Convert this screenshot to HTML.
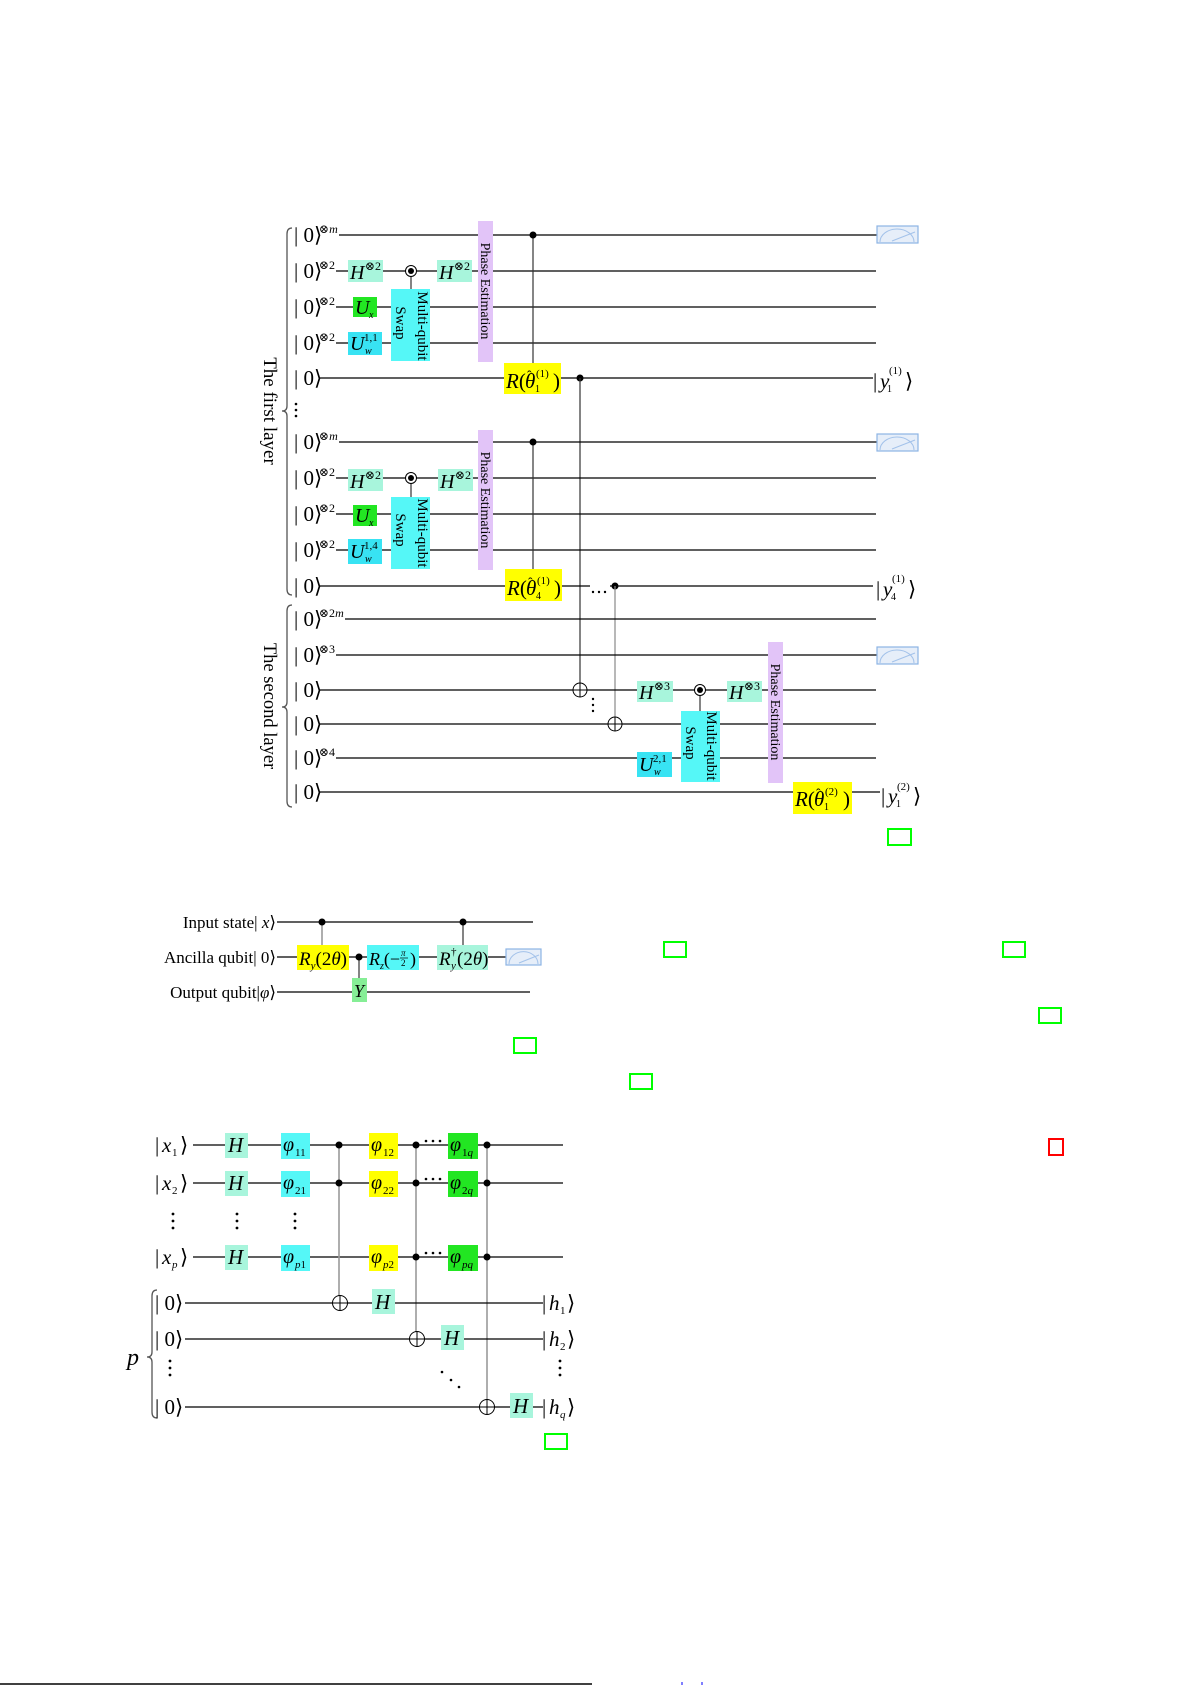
<!DOCTYPE html>
<html><head><meta charset="utf-8"><style>
html,body{margin:0;padding:0;background:#fff}
svg{display:block}
text{font-family:"Liberation Serif","DejaVu Serif","DejaVu Sans",serif;fill:#000}
.w{stroke:#000;stroke-width:1.3;fill:none}
.v{stroke:#333;stroke-width:1.2}
.g{stroke:#9a9a9a;stroke-width:1.6}
.br{stroke:#555;stroke-width:1.3;fill:none}
.mint{fill:#a8f5dc}
.cy{fill:#55f7f7}
.cw{fill:#38e3f3}
.yl{fill:#ffff00}
.gr{fill:#22e622}
.pe{fill:#e2c4f8}
.ms{fill:#e6eef9;stroke:#8db4e4;stroke-width:1.2}
.arc{fill:none;stroke:#a3c2ea;stroke-width:1}
.sq{fill:none;stroke:#00ff00;stroke-width:2}
</style></head><body>
<svg width="1191" height="1685" viewBox="0 0 1191 1685" xmlns="http://www.w3.org/2000/svg">

<!-- ================= CIRCUIT 1 : FIRST LAYER, BLOCK 1 ================= -->
<path class="br" d="M292,228 Q287,228 287,234 L287,406 Q287,411 282,411 Q287,411 287,416 L287,589 Q287,595 292,595"/>
<text transform="translate(264,411) rotate(90)" text-anchor="middle" font-size="19">The first layer</text>

<g font-size="21">
<text x="294" y="242">| 0⟩</text>
<text x="294" y="278">| 0⟩</text>
<text x="294" y="314">| 0⟩</text>
<text x="294" y="350">| 0⟩</text>
<text x="294" y="385">| 0⟩</text>
</g>
<g font-size="12">
<text x="319" y="233">⊗<tspan font-style="italic">m</tspan></text>
<text x="319" y="269">⊗2</text>
<text x="319" y="305">⊗2</text>
<text x="319" y="341">⊗2</text>
</g>
<line class="w" x1="339" y1="235" x2="877" y2="235"/>
<line class="w" x1="336" y1="271" x2="876" y2="271"/>
<line class="w" x1="336" y1="307" x2="876" y2="307"/>
<line class="w" x1="336" y1="343" x2="876" y2="343"/>
<line class="w" x1="320" y1="378" x2="873" y2="378"/>
<rect class="mint" x="348" y="260" width="35" height="22"/>
<text x="350" y="279" font-size="20" font-style="italic">H</text><text x="365" y="270" font-size="12">⊗2</text>
<rect class="gr" x="353" y="297" width="24" height="20"/>
<text x="355" y="314" font-size="20" font-style="italic">U</text><text x="369" y="318" font-size="10" font-style="italic">x</text>
<rect class="cw" x="348" y="332" width="34" height="23"/>
<text x="350" y="350" font-size="20" font-style="italic">U</text><text x="364" y="341" font-size="11">1,1</text><text x="365" y="354" font-size="10" font-style="italic">w</text>
<line class="v" x1="411" y1="271" x2="411" y2="289"/>
<circle cx="411" cy="271" r="5.5" fill="#fff" stroke="#000" stroke-width="1"/><circle cx="411" cy="271" r="3" fill="#000"/>
<rect class="cy" x="391" y="289" width="39" height="72"/>
<text transform="translate(418,326) rotate(90)" text-anchor="middle" font-size="15">Multi-qubit</text>
<text transform="translate(396,323) rotate(90)" text-anchor="middle" font-size="15">Swap</text>
<rect class="mint" x="437" y="260" width="35" height="22"/>
<text x="439" y="279" font-size="20" font-style="italic">H</text><text x="454" y="270" font-size="12">⊗2</text>
<rect class="pe" x="478" y="221" width="15" height="141"/>
<text transform="translate(481,291) rotate(90)" text-anchor="middle" font-size="14">Phase Estimation</text>
<line class="v" x1="533" y1="235" x2="533" y2="363"/>
<circle cx="533" cy="235" r="3.5"/>
<rect class="yl" x="504" y="363" width="57" height="31"/>
<text x="506" y="388" font-size="21"><tspan font-style="italic">R</tspan>(</text>
<text x="525" y="388" font-size="21" font-style="italic">θ</text>
<text x="527" y="380" font-size="14">ˆ</text>
<text x="535" y="392" font-size="10">1</text>
<text x="536" y="377" font-size="11">(1)</text>
<text x="553" y="388" font-size="21">)</text>
<circle cx="580" cy="378" r="3.5"/>
<line class="v" x1="580" y1="378" x2="580" y2="683"/>
<text x="873" y="388" font-size="21">|</text>
<text x="880" y="388" font-size="21" font-style="italic">y</text>
<text x="887" y="392" font-size="10">1</text>
<text x="889" y="374" font-size="11">(1)</text>
<text x="905" y="388" font-size="21">⟩</text>
<rect class="ms" x="877" y="226" width="41" height="17"/>
<path class="arc" d="M880,242 A17,13 0 0 1 914,242"/><line class="arc" x1="892" y1="241" x2="915" y2="232"/>

<!-- dots between blocks -->
<circle cx="296" cy="404" r="1.3"/><circle cx="296" cy="410" r="1.3"/><circle cx="296" cy="416" r="1.3"/>

<!-- ================= BLOCK 2 ================= -->
<g font-size="21">
<text x="294" y="449">| 0⟩</text>
<text x="294" y="485">| 0⟩</text>
<text x="294" y="521">| 0⟩</text>
<text x="294" y="557">| 0⟩</text>
<text x="294" y="593">| 0⟩</text>
</g>
<g font-size="12">
<text x="319" y="440">⊗<tspan font-style="italic">m</tspan></text>
<text x="319" y="476">⊗2</text>
<text x="319" y="512">⊗2</text>
<text x="319" y="548">⊗2</text>
</g>
<line class="w" x1="339" y1="442" x2="877" y2="442"/>
<line class="w" x1="336" y1="478" x2="876" y2="478"/>
<line class="w" x1="336" y1="514" x2="876" y2="514"/>
<line class="w" x1="336" y1="550" x2="876" y2="550"/>
<line class="w" x1="320" y1="586" x2="590" y2="586"/>
<line class="w" x1="610" y1="586" x2="873" y2="586"/>
<rect class="mint" x="348" y="469" width="35" height="22"/>
<text x="350" y="488" font-size="20" font-style="italic">H</text><text x="365" y="479" font-size="12">⊗2</text>
<rect class="gr" x="353" y="505" width="24" height="21"/>
<text x="355" y="522" font-size="20" font-style="italic">U</text><text x="369" y="526" font-size="10" font-style="italic">x</text>
<rect class="cw" x="348" y="539" width="34" height="25"/>
<text x="350" y="558" font-size="20" font-style="italic">U</text><text x="364" y="549" font-size="11">1,4</text><text x="365" y="562" font-size="10" font-style="italic">w</text>
<line class="v" x1="411" y1="478" x2="411" y2="497"/>
<circle cx="411" cy="478" r="5.5" fill="#fff" stroke="#000" stroke-width="1"/><circle cx="411" cy="478" r="3" fill="#000"/>
<rect class="cy" x="391" y="497" width="39" height="72"/>
<text transform="translate(418,533) rotate(90)" text-anchor="middle" font-size="15">Multi-qubit</text>
<text transform="translate(396,530) rotate(90)" text-anchor="middle" font-size="15">Swap</text>
<rect class="mint" x="438" y="469" width="35" height="22"/>
<text x="440" y="488" font-size="20" font-style="italic">H</text><text x="455" y="479" font-size="12">⊗2</text>
<rect class="pe" x="478" y="430" width="15" height="140"/>
<text transform="translate(481,500) rotate(90)" text-anchor="middle" font-size="14">Phase Estimation</text>
<line class="v" x1="533" y1="442" x2="533" y2="569"/>
<circle cx="533" cy="442" r="3.5"/>
<rect class="yl" x="505" y="569" width="57" height="32"/>
<text x="507" y="595" font-size="21"><tspan font-style="italic">R</tspan>(</text>
<text x="526" y="595" font-size="21" font-style="italic">θ</text>
<text x="528" y="587" font-size="14">ˆ</text>
<text x="536" y="599" font-size="10">4</text>
<text x="537" y="584" font-size="11">(1)</text>
<text x="554" y="595" font-size="21">)</text>
<circle cx="593" cy="592" r="1.2"/><circle cx="599" cy="592" r="1.2"/><circle cx="605" cy="592" r="1.2"/>
<circle cx="615" cy="586" r="3.5"/>
<line x1="615" y1="586" x2="615" y2="717" style="stroke:#888;stroke-width:1.2"/>
<text x="876" y="596" font-size="21">|</text>
<text x="883" y="596" font-size="21" font-style="italic">y</text>
<text x="891" y="600" font-size="10">4</text>
<text x="892" y="582" font-size="11">(1)</text>
<text x="908" y="596" font-size="21">⟩</text>
<rect class="ms" x="877" y="434" width="41" height="17"/>
<path class="arc" d="M880,450 A17,13 0 0 1 914,450"/><line class="arc" x1="892" y1="449" x2="915" y2="440"/>

<!-- ================= SECOND LAYER ================= -->
<path class="br" d="M292,605 Q287,605 287,611 L287,702 Q287,707 282,707 Q287,707 287,712 L287,801 Q287,807 292,807"/>
<text transform="translate(264,706) rotate(90)" text-anchor="middle" font-size="18.5">The second layer</text>
<g font-size="21">
<text x="294" y="626">| 0⟩</text>
<text x="294" y="662">| 0⟩</text>
<text x="294" y="697">| 0⟩</text>
<text x="294" y="731">| 0⟩</text>
<text x="294" y="765">| 0⟩</text>
<text x="294" y="799">| 0⟩</text>
</g>
<g font-size="12">
<text x="319" y="617">⊗2<tspan font-style="italic">m</tspan></text>
<text x="319" y="653">⊗3</text>
<text x="319" y="756">⊗4</text>
</g>
<line class="w" x1="345" y1="619" x2="876" y2="619"/>
<line class="w" x1="336" y1="655" x2="877" y2="655"/>
<line class="w" x1="320" y1="690" x2="876" y2="690"/>
<line class="w" x1="320" y1="724" x2="876" y2="724"/>
<line class="w" x1="336" y1="758" x2="876" y2="758"/>
<line class="w" x1="320" y1="792" x2="880" y2="792"/>
<circle cx="580" cy="690" r="7" fill="#fff" stroke="#000" stroke-width="1"/>
<line x1="573" y1="690" x2="587" y2="690" stroke="#000" stroke-width="1"/><line x1="580" y1="683" x2="580" y2="697" stroke="#000" stroke-width="1"/>
<circle cx="615" cy="724" r="7" fill="#fff" stroke="#000" stroke-width="1"/>
<line x1="608" y1="724" x2="622" y2="724" stroke="#000" stroke-width="1"/><line x1="615" y1="717" x2="615" y2="731" stroke="#000" stroke-width="1"/>
<circle cx="593" cy="699" r="1.2"/><circle cx="593" cy="705" r="1.2"/><circle cx="593" cy="711" r="1.2"/>
<rect class="mint" x="637" y="681" width="36" height="21"/>
<text x="639" y="699" font-size="20" font-style="italic">H</text><text x="654" y="690" font-size="12">⊗3</text>
<line class="v" x1="700" y1="690" x2="700" y2="711"/>
<circle cx="700" cy="690" r="5.5" fill="#fff" stroke="#000" stroke-width="1"/><circle cx="700" cy="690" r="3" fill="#000"/>
<rect class="cy" x="681" y="711" width="39" height="71"/>
<text transform="translate(707,746) rotate(90)" text-anchor="middle" font-size="15">Multi-qubit</text>
<text transform="translate(686,743) rotate(90)" text-anchor="middle" font-size="15">Swap</text>
<rect class="mint" x="727" y="681" width="35" height="21"/>
<text x="729" y="699" font-size="20" font-style="italic">H</text><text x="744" y="690" font-size="12">⊗3</text>
<rect class="cw" x="637" y="752" width="35" height="25"/>
<text x="639" y="771" font-size="20" font-style="italic">U</text><text x="653" y="762" font-size="11">2,1</text><text x="654" y="775" font-size="10" font-style="italic">w</text>
<rect class="pe" x="768" y="642" width="15" height="141"/>
<text transform="translate(771,712) rotate(90)" text-anchor="middle" font-size="14">Phase Estimation</text>
<rect class="yl" x="793" y="782" width="59" height="32"/>
<text x="795" y="806" font-size="21"><tspan font-style="italic">R</tspan>(</text>
<text x="814" y="806" font-size="21" font-style="italic">θ</text>
<text x="816" y="798" font-size="14">ˆ</text>
<text x="824" y="810" font-size="10">1</text>
<text x="825" y="795" font-size="11">(2)</text>
<text x="843" y="806" font-size="21">)</text>
<rect x="880" y="780" width="48" height="30" fill="#fff"/>
<text x="881" y="803" font-size="21">|</text>
<text x="888" y="803" font-size="21" font-style="italic">y</text>
<text x="896" y="807" font-size="10">1</text>
<text x="897" y="790" font-size="11">(2)</text>
<text x="913" y="803" font-size="21">⟩</text>
<rect class="ms" x="877" y="647" width="41" height="17"/>
<path class="arc" d="M880,663 A17,13 0 0 1 914,663"/><line class="arc" x1="892" y1="662" x2="915" y2="653"/>

<!-- ================= CIRCUIT 2 ================= -->
<g font-size="17">
<text x="276" y="928" text-anchor="end">Input state| <tspan font-style="italic">x</tspan>⟩</text>
<text x="276" y="963" text-anchor="end">Ancilla qubit| 0⟩</text>
<text x="276" y="998" text-anchor="end">Output qubit|<tspan font-style="italic">φ</tspan>⟩</text>
</g>
<line class="w" x1="277" y1="922" x2="533" y2="922"/>
<line class="w" x1="277" y1="957" x2="506" y2="957"/>
<line class="w" x1="277" y1="992" x2="530" y2="992"/>
<line class="g" x1="322" y1="922" x2="322" y2="945"/>
<circle cx="322" cy="922" r="3.5"/>
<line class="v" x1="463" y1="922" x2="463" y2="945"/>
<circle cx="463" cy="922" r="3.5"/>
<line class="v" x1="359" y1="957" x2="359" y2="978"/>
<circle cx="359" cy="957" r="3.5"/>
<rect class="yl" x="297" y="945" width="52" height="25"/>
<text x="299" y="965" font-size="19"><tspan font-style="italic">R</tspan><tspan font-size="11" font-style="italic" dy="4">y</tspan><tspan dy="-4">(2</tspan><tspan font-style="italic">θ</tspan>)</text>
<rect class="cy" x="367" y="945" width="52" height="25"/>
<text x="369" y="965" font-size="18"><tspan font-style="italic">R</tspan><tspan font-size="10" font-style="italic" dy="4">z</tspan><tspan dy="-4">(−</tspan></text>
<text x="401" y="956" font-size="9" font-style="italic">π</text>
<line x1="400" y1="958" x2="408" y2="958" stroke="#000" stroke-width="0.7"/>
<text x="401" y="966" font-size="9">2</text>
<text x="410" y="965" font-size="18">)</text>
<rect class="mint" x="437" y="945" width="51" height="25"/>
<text x="439" y="965" font-size="19" font-style="italic">R</text>
<text x="451" y="955" font-size="11">†</text>
<text x="451" y="969" font-size="11" font-style="italic">y</text>
<text x="457" y="965" font-size="19">(2<tspan font-style="italic">θ</tspan>)</text>
<rect x="352" y="978" width="15" height="24" fill="#86ee96"/>
<text x="354" y="997" font-size="18" font-style="italic">Y</text>
<rect class="ms" x="506" y="949" width="35" height="16"/>
<path class="arc" d="M509,964 A14,12 0 0 1 538,964"/><line class="arc" x1="519" y1="963" x2="539" y2="955"/>

<!-- annotation squares -->
<rect class="sq" x="888" y="829" width="23" height="16"/>
<rect class="sq" x="664" y="942" width="22" height="15"/>
<rect class="sq" x="1003" y="942" width="22" height="15"/>
<rect class="sq" x="1039" y="1008" width="22" height="15"/>
<rect class="sq" x="514" y="1038" width="22" height="15"/>
<rect class="sq" x="630" y="1074" width="22" height="15"/>
<rect x="1049" y="1139" width="14" height="16" fill="none" stroke="#ff0000" stroke-width="2"/>
<rect class="sq" x="545" y="1434" width="22" height="15"/>

<!-- ================= CIRCUIT 3 ================= -->
<g font-size="21">
<text x="155" y="1152">|</text><text x="162" y="1152" font-style="italic">x</text><text x="172" y="1156" font-size="11">1</text><text x="180" y="1152">⟩</text>
<text x="155" y="1190">|</text><text x="162" y="1190" font-style="italic">x</text><text x="172" y="1194" font-size="11">2</text><text x="180" y="1190">⟩</text>
<text x="155" y="1264">|</text><text x="162" y="1264" font-style="italic">x</text><text x="172" y="1268" font-size="11" font-style="italic">p</text><text x="180" y="1264">⟩</text>
</g>
<line class="w" x1="193" y1="1145" x2="563" y2="1145"/>
<line class="w" x1="193" y1="1183" x2="563" y2="1183"/>
<line class="w" x1="193" y1="1257" x2="563" y2="1257"/>
<g>
<circle cx="173" cy="1214" r="1.4"/><circle cx="173" cy="1221" r="1.4"/><circle cx="173" cy="1228" r="1.4"/>
<circle cx="237" cy="1214" r="1.4"/><circle cx="237" cy="1221" r="1.4"/><circle cx="237" cy="1228" r="1.4"/>
<circle cx="295" cy="1214" r="1.4"/><circle cx="295" cy="1221" r="1.4"/><circle cx="295" cy="1228" r="1.4"/>
</g>
<rect class="mint" x="225" y="1133" width="23" height="25"/><text x="228" y="1152" font-size="21" font-style="italic">H</text>
<rect class="mint" x="225" y="1171" width="23" height="25"/><text x="228" y="1190" font-size="21" font-style="italic">H</text>
<rect class="mint" x="225" y="1245" width="23" height="25"/><text x="228" y="1264" font-size="21" font-style="italic">H</text>
<rect class="cy" x="281" y="1133" width="29" height="26"/><text x="283" y="1151" font-size="20" font-style="italic">φ</text><text x="295" y="1156" font-size="11">11</text>
<rect class="cy" x="281" y="1171" width="29" height="26"/><text x="283" y="1189" font-size="20" font-style="italic">φ</text><text x="295" y="1194" font-size="11">21</text>
<rect class="cy" x="281" y="1245" width="29" height="26"/><text x="283" y="1263" font-size="20" font-style="italic">φ</text><text x="295" y="1268" font-size="11"><tspan font-style="italic">p</tspan>1</text>
<line class="g" x1="339" y1="1145" x2="339" y2="1296"/>
<circle cx="339" cy="1145" r="3.5"/><circle cx="339" cy="1183" r="3.5"/>
<rect class="yl" x="369" y="1133" width="29" height="26"/><text x="371" y="1151" font-size="20" font-style="italic">φ</text><text x="383" y="1156" font-size="11">12</text>
<rect class="yl" x="369" y="1171" width="29" height="26"/><text x="371" y="1189" font-size="20" font-style="italic">φ</text><text x="383" y="1194" font-size="11">22</text>
<rect class="yl" x="369" y="1245" width="29" height="26"/><text x="371" y="1263" font-size="20" font-style="italic">φ</text><text x="383" y="1268" font-size="11"><tspan font-style="italic">p</tspan>2</text>
<line class="g" x1="416" y1="1145" x2="416" y2="1332"/>
<circle cx="416" cy="1145" r="3.5"/><circle cx="416" cy="1183" r="3.5"/><circle cx="416" cy="1257" r="3.5"/>
<g>
<circle cx="426" cy="1141" r="1.3"/><circle cx="433" cy="1141" r="1.3"/><circle cx="440" cy="1141" r="1.3"/>
<circle cx="426" cy="1179" r="1.3"/><circle cx="433" cy="1179" r="1.3"/><circle cx="440" cy="1179" r="1.3"/>
<circle cx="426" cy="1253" r="1.3"/><circle cx="433" cy="1253" r="1.3"/><circle cx="440" cy="1253" r="1.3"/>
</g>
<rect class="gr" x="448" y="1133" width="30" height="26"/><text x="450" y="1151" font-size="20" font-style="italic">φ</text><text x="462" y="1156" font-size="11">1<tspan font-style="italic">q</tspan></text>
<rect class="gr" x="448" y="1171" width="30" height="26"/><text x="450" y="1189" font-size="20" font-style="italic">φ</text><text x="462" y="1194" font-size="11">2<tspan font-style="italic">q</tspan></text>
<rect class="gr" x="448" y="1245" width="30" height="26"/><text x="450" y="1263" font-size="20" font-style="italic">φ</text><text x="462" y="1268" font-size="11" font-style="italic">pq</text>
<line class="g" x1="487" y1="1145" x2="487" y2="1400"/>
<circle cx="487" cy="1145" r="3.5"/><circle cx="487" cy="1183" r="3.5"/><circle cx="487" cy="1257" r="3.5"/>

<path class="br" d="M157,1290 Q152,1290 152,1296 L152,1352 Q152,1357 147,1357 Q152,1357 152,1362 L152,1412 Q152,1418 157,1418"/>
<text x="127" y="1365" font-size="24" font-style="italic">p</text>
<g font-size="21">
<text x="155" y="1310">| 0⟩</text>
<text x="155" y="1346">| 0⟩</text>
<text x="155" y="1414">| 0⟩</text>
</g>
<circle cx="170" cy="1361" r="1.4"/><circle cx="170" cy="1368" r="1.4"/><circle cx="170" cy="1375" r="1.4"/>
<line class="w" x1="185" y1="1303" x2="543" y2="1303"/>
<line class="w" x1="185" y1="1339" x2="543" y2="1339"/>
<line class="w" x1="185" y1="1407" x2="543" y2="1407"/>
<circle cx="340" cy="1303" r="7.5" fill="#fff" stroke="#000" stroke-width="1"/>
<line x1="332.5" y1="1303" x2="347.5" y2="1303" stroke="#000" stroke-width="1"/><line x1="340" y1="1295.5" x2="340" y2="1310.5" stroke="#000" stroke-width="1"/>
<circle cx="417" cy="1339" r="7.5" fill="#fff" stroke="#000" stroke-width="1"/>
<line x1="409.5" y1="1339" x2="424.5" y2="1339" stroke="#000" stroke-width="1"/><line x1="417" y1="1331.5" x2="417" y2="1346.5" stroke="#000" stroke-width="1"/>
<circle cx="487" cy="1407" r="7.5" fill="#fff" stroke="#000" stroke-width="1"/>
<line x1="479.5" y1="1407" x2="494.5" y2="1407" stroke="#000" stroke-width="1"/><line x1="487" y1="1399.5" x2="487" y2="1414.5" stroke="#000" stroke-width="1"/>
<rect class="mint" x="372" y="1289" width="23" height="25"/><text x="375" y="1309" font-size="21" font-style="italic">H</text>
<rect class="mint" x="441" y="1325" width="23" height="25"/><text x="444" y="1345" font-size="21" font-style="italic">H</text>
<rect class="mint" x="510" y="1393" width="23" height="25"/><text x="513" y="1413" font-size="21" font-style="italic">H</text>
<circle cx="442" cy="1372" r="1.3"/><circle cx="451" cy="1380" r="1.3"/><circle cx="459" cy="1387" r="1.3"/>
<g font-size="21">
<text x="542" y="1310">|</text><text x="549" y="1310" font-style="italic">h</text><text x="560" y="1314" font-size="11">1</text><text x="567" y="1310">⟩</text>
<text x="542" y="1346">|</text><text x="549" y="1346" font-style="italic">h</text><text x="560" y="1350" font-size="11">2</text><text x="567" y="1346">⟩</text>
<text x="542" y="1414">|</text><text x="549" y="1414" font-style="italic">h</text><text x="560" y="1418" font-size="11" font-style="italic">q</text><text x="567" y="1414">⟩</text>
</g>
<circle cx="560" cy="1361" r="1.4"/><circle cx="560" cy="1368" r="1.4"/><circle cx="560" cy="1375" r="1.4"/>

<line x1="0" y1="1684" x2="592" y2="1684" stroke="#000" stroke-width="1.6"/>
<line x1="682" y1="1682" x2="682" y2="1685" stroke="#0000ff" stroke-width="1"/>
<line x1="702" y1="1682" x2="702" y2="1685" stroke="#0000ff" stroke-width="1"/>
</svg>
</body></html>
